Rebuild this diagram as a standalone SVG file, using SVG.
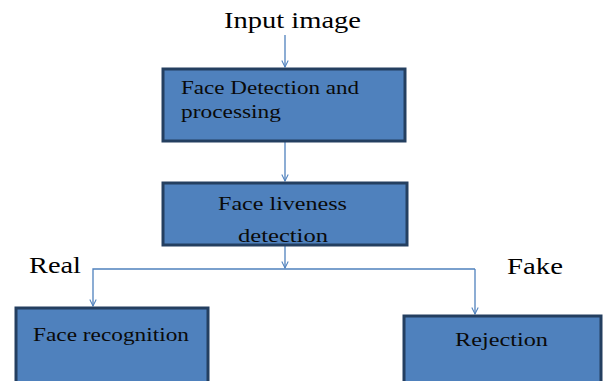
<svg xmlns="http://www.w3.org/2000/svg" width="603" height="381" viewBox="0 0 603 381">
<style>
.box{fill:#4F81BD;stroke:#243F60;stroke-width:3}
.c{fill:none;stroke:#4F81BD;stroke-width:1.3}
.t{font-family:"Liberation Serif",serif;fill:#000;font-size:23px}
.bt{font-family:"Liberation Serif",serif;fill:#0a0a0a;font-size:18.5px}
</style>
<defs>
<marker id="a" viewBox="0 0 10 10" refX="9" refY="5" markerWidth="8" markerHeight="8" orient="auto" markerUnits="userSpaceOnUse">
<path d="M1,1 L9,5 L1,9" fill="none" stroke="#4F81BD" stroke-width="1.3"/>
</marker>
<clipPath id="clip2"><rect x="160" y="180" width="250" height="62"/></clipPath>
</defs>
<rect width="603" height="381" fill="#fff"/>
<text class="t" x="224" y="28" textLength="137" lengthAdjust="spacingAndGlyphs">Input image</text>
<text class="t" x="29" y="273" textLength="52" lengthAdjust="spacingAndGlyphs">Real</text>
<text class="t" x="507" y="274" textLength="56" lengthAdjust="spacingAndGlyphs">Fake</text>
<g id="connectors">
<line class="c" x1="285" y1="35" x2="285" y2="67" marker-end="url(#a)"/>
<line class="c" x1="285" y1="142" x2="285" y2="181" marker-end="url(#a)"/>
<line class="c" x1="285" y1="246" x2="285" y2="268" marker-end="url(#a)"/>
<polyline class="c" points="475,269 93,269 93,306" marker-end="url(#a)"/>
<line class="c" x1="475" y1="269" x2="475" y2="314" marker-end="url(#a)"/>
</g>
<g id="n1">
<rect class="box" x="163" y="69" width="242" height="72"/>
<text class="bt" x="181" y="94" textLength="178" lengthAdjust="spacingAndGlyphs">Face Detection and</text>
<text class="bt" x="181" y="118" textLength="100" lengthAdjust="spacingAndGlyphs">processing</text>
</g>
<g id="n2">
<rect class="box" x="163" y="183" width="244" height="62"/>
<g clip-path="url(#clip2)">
<text class="bt" x="218" y="210" textLength="129" lengthAdjust="spacingAndGlyphs">Face liveness</text>
<text class="bt" x="238" y="242" textLength="90" lengthAdjust="spacingAndGlyphs">detection</text>
</g>
</g>
<g id="n3">
<rect class="box" x="16" y="308" width="192" height="80"/>
<text class="bt" x="33" y="341" textLength="156" lengthAdjust="spacingAndGlyphs">Face recognition</text>
</g>
<g id="n4">
<rect class="box" x="404" y="316" width="197" height="72"/>
<text class="bt" x="455" y="346" textLength="93" lengthAdjust="spacingAndGlyphs">Rejection</text>
</g>
</svg>
